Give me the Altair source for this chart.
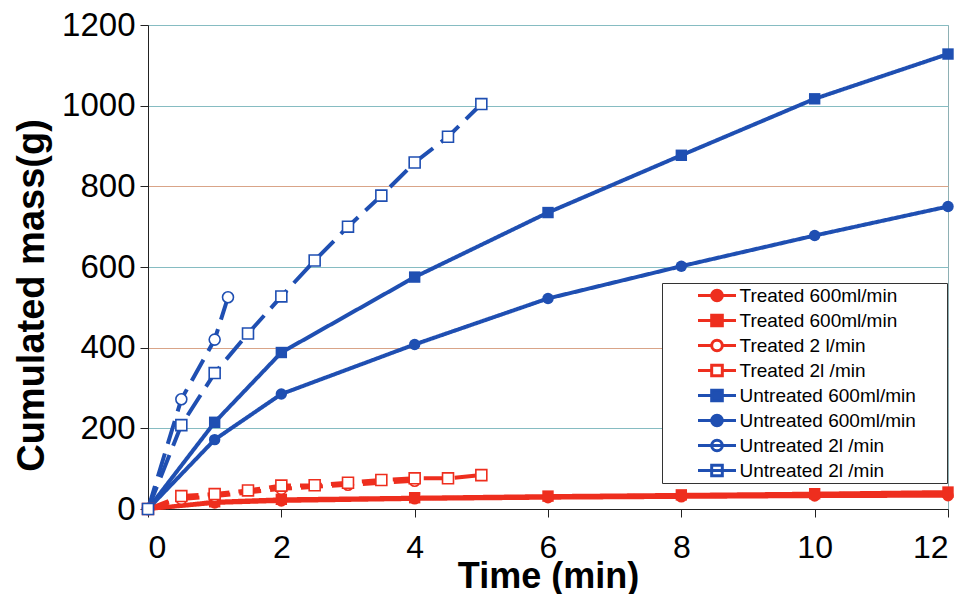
import altair as alt
import pandas as pd

# ---- data ----
series_labels = [
    "Treated 600ml/min", "Treated 600ml/min", "Treated 2 l/min", "Treated 2l /min",
    "Untreated 600ml/min", "Untreated 600ml/min", "Untreated 2l /min", "Untreated 2l /min",
]
series_keys = [f"{lab}|{i}" for i, lab in enumerate(series_labels)]

t_treat_600_c = [0, 1, 2, 4, 6, 8, 10, 12]
m_treat_600_c = [0, 15, 20, 25, 28, 30, 32, 33]
t_treat_600_s = [0, 1, 2, 4, 6, 8, 10, 12]
m_treat_600_s = [0, 18, 24, 28, 32, 35, 38, 42]
t_treat_2_c = [0, 0.5, 1, 2, 3, 4]
m_treat_2_c = [0, 25, 32, 50, 60, 70]
t_treat_2_s = [0, 0.5, 1, 1.5, 2, 2.5, 3, 3.5, 4, 4.5, 5]
m_treat_2_s = [0, 32, 37, 46, 58, 59, 65, 72, 76, 76, 84]
t_untr_600_s = [0, 1, 2, 4, 6, 8, 10, 12]
m_untr_600_s = [0, 215, 388, 575, 735, 877, 1017, 1128]
t_untr_600_c = [0, 1, 2, 4, 6, 8, 10, 12]
m_untr_600_c = [0, 172, 285, 408, 522, 602, 678, 750]
t_untr_2_c = [0, 0.5, 1, 1.2]
m_untr_2_c = [0, 272, 420, 525]
t_untr_2_s = [0, 0.5, 1, 1.5, 2, 2.5, 3, 3.5, 4, 4.5, 5]
m_untr_2_s = [0, 208, 337, 435, 527, 616, 700, 777, 859, 923, 1004]

series_t = [t_treat_600_c, t_treat_600_s, t_treat_2_c, t_treat_2_s,
            t_untr_600_s, t_untr_600_c, t_untr_2_c, t_untr_2_s]
series_m = [m_treat_600_c, m_treat_600_s, m_treat_2_c, m_treat_2_s,
            m_untr_600_s, m_untr_600_c, m_untr_2_c, m_untr_2_s]
series_open = [False, False, True, True, False, False, True, True]

x_ticks = [0, 2, 4, 6, 8, 10, 12]
y_ticks = [0, 200, 400, 600, 800, 1000, 1200]

# ---- styles ----
RED = "#ee2e1e"
BLUE = "#1f4fb2"
colors = [RED, RED, RED, RED, BLUE, BLUE, BLUE, BLUE]
dashes = [[1, 0], [1, 0], [22, 9], [22, 9], [1, 0], [1, 0], [24, 10], [24, 10]]
shapes = ["circle", "square", "circle", "square", "square", "circle", "circle", "square"]
legend_fill = [RED, RED, "white", "white", BLUE, BLUE, "white", "white"]

r = 0.28
circ = f"M{r},0A{r},{r},0,1,1,-{r},0A{r},{r},0,1,1,{r},0Z"
sq = f"M-{r},-{r}H{r}V{r}H-{r}Z"
line_full = "M-1,0H1"
line_gap = f"M-1,0H-{r+0.04}M{r+0.04},0H1"
legend_shapes = [line_full + circ, line_full + sq, line_gap + circ, line_gap + sq,
                 line_full + sq, line_full + circ, line_full + circ, line_full + sq]

rows = []
for k, ts, ms, op in zip(series_keys, series_t, series_m, series_open):
    for t, m in zip(ts, ms):
        rows.append({"key": k, "t": t, "m": m, "open": op})
df = pd.DataFrame(rows)

x_enc = alt.X("t:Q", scale=alt.Scale(domain=[0, 12], nice=False),
              axis=alt.Axis(values=x_ticks, format="d", title="Time (min)", grid=False,
                            labelFontSize=32, titleFontSize=36, titleFontWeight="bold",
                            tickSize=8, labelPadding=15, titlePadding=-4,
                            domainColor="#222", tickColor="#222", labelColor="black",
                            titleColor="black"))
y_enc = alt.Y("m:Q", scale=alt.Scale(domain=[0, 1200], nice=False),
              axis=alt.Axis(values=y_ticks, format="d", title="Cumulated mass(g)",
                            labelFontSize=33, titleFontSize=38, titleFontWeight="bold",
                            tickSize=8, labelPadding=5, titlePadding=10, titleY=270,
                            domainColor="#222", tickColor="#222", labelColor="black",
                            titleColor="black",
                            gridColor={"condition": {"test": "datum.value == 400 || datum.value == 800",
                                                     "value": "#d9a488"},
                                       "value": "#86bcc2"},
                            gridWidth=1.2))

stroke_scale = alt.Scale(domain=series_keys, range=colors)
shape_scale = alt.Scale(domain=series_keys, range=shapes)

lines = alt.Chart(df).mark_line(strokeWidth=4).encode(
    x=x_enc, y=y_enc,
    stroke=alt.Stroke("key:N", scale=stroke_scale, legend=None),
    strokeDash=alt.StrokeDash("key:N", scale=alt.Scale(domain=series_keys, range=dashes), legend=None),
    order=alt.Order("t:Q"),
)

pts_filled = alt.Chart(df).transform_filter("!datum.open").mark_point(
    filled=True, size=130, opacity=1).encode(
    x="t:Q", y="m:Q",
    fill=alt.Fill("key:N", scale=alt.Scale(domain=series_keys, range=colors), legend=None),
    shape=alt.Shape("key:N", scale=shape_scale, legend=None),
)

pts_open = alt.Chart(df).transform_filter("datum.open").mark_point(
    filled=False, size=120, fill="white", fillOpacity=1, strokeWidth=1.6, opacity=1).encode(
    x="t:Q", y="m:Q",
    stroke=alt.Stroke("key:N", scale=stroke_scale, legend=None),
    shape=alt.Shape("key:N", scale=shape_scale, legend=None),
)

data_layer = alt.layer(lines, pts_filled, pts_open)

legend = alt.Legend(
    title=" ", titleOrient="right", titlePadding=31, titleFontSize=10,
    orient="none", legendX=514, legendY=258,
    padding=0, fillColor="white", strokeColor="#333333",
    symbolSize=1444, symbolStrokeWidth=3, symbolOffset=34.5,
    symbolFillColor="white", symbolStrokeColor="black",
    clipHeight=25, rowPadding=0, labelOffset=2,
    labelFontSize=19, labelFont="Liberation Sans", labelColor="black",
    labelLimit=400,
    labelExpr="split(datum.label, '|')[0]",
)

legend_df = pd.DataFrame({"key": series_keys})
legend_layer = alt.Chart(legend_df).mark_point(opacity=0).encode(
    shape=alt.Shape("key:N", scale=alt.Scale(domain=series_keys, range=legend_shapes), legend=legend),
    fill=alt.Fill("key:N", scale=alt.Scale(domain=series_keys, range=legend_fill), legend=legend),
    stroke=alt.Stroke("key:N", scale=alt.Scale(domain=series_keys, range=colors), legend=legend),
)

chart = alt.layer(data_layer, legend_layer).resolve_scale(
    shape="independent", fill="independent", stroke="independent"
).properties(
    width=800, height=484,
    padding={"left": 5, "top": 1, "right": 0, "bottom": 0},
).configure(
    font="Liberation Sans",
).configure_view(
    stroke="#8eb0b4", strokeWidth=1,
)

chart.save("out.html", embed_options={"renderer": "svg", "actions": False})
